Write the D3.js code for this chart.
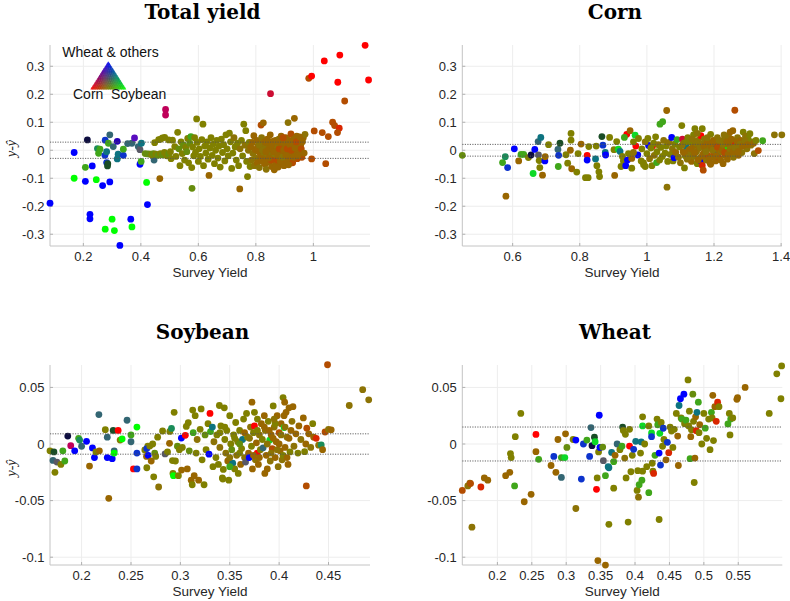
<!DOCTYPE html>
<html><head><meta charset="utf-8">
<script src="https://cdn.jsdelivr.net/npm/d3@7"></script>
<style>body{margin:0;background:#fff}svg{display:block}</style>
</head><body><svg id="chart" width="790" height="601"></svg>
<script>
// crop shares per colour code: [corn, soybean, wheat & others]
const mixShares = {
  R:[1,0,0], G:[0,1,0], B:[0,0,1],
  O:[0.5,0.5,0], Y:[0.55,0.45,0.02], N:[0.6,0.4,0], A:[0.7,0.3,0], E:[0.85,0.15,0],
  L:[0.4,0.55,0.05], W:[0.25,0.65,0.1], T:[0.05,0.45,0.5], C:[0.2,0.4,0.45],
  K:[0.05,0.05,0.25], D:[0.1,0.3,0.15], P:[0.35,0.05,0.75], M:[0.75,0,0.35],
  S:[0.05,0.2,0.8], H:[0.35,0.35,0.4], J:[0.05,0.85,0.15], Q:[0.1,0.55,0.35],
  U:[0.15,0,0.7], F:[0.8,0.05,0.2]
};

const totalPoints = [
[0.084,-0.189,'B'],[0.168,-0.008,'B'],[0.168,-0.100,'G'],[0.207,-0.061,'W'],[0.207,-0.111,'B'],[0.214,0.037,'K'],
[0.223,-0.229,'B'],[0.223,-0.245,'B'],[0.231,-0.056,'B'],[0.245,-0.105,'G'],[0.249,0.006,'Q'],[0.253,-0.011,'W'],
[0.258,0.004,'W'],[0.267,-0.126,'B'],[0.276,-0.282,'G'],[0.276,0.036,'S'],[0.275,-0.018,'S'],[0.281,-0.005,'T'],
[0.281,-0.044,'S'],[0.284,-0.056,'D'],[0.285,-0.048,'D'],[0.287,0.025,'W'],[0.292,0.055,'C'],[0.292,-0.113,'B'],
[0.300,-0.246,'G'],[0.304,0.013,'C'],[0.308,-0.287,'G'],[0.318,0.032,'U'],[0.321,-0.014,'T'],[0.318,-0.031,'T'],
[0.327,-0.340,'B'],[0.339,-0.018,'S'],[0.339,0.004,'W'],[0.354,0.024,'C'],[0.365,-0.246,'B'],[0.369,-0.274,'G'],
[0.369,0.025,'C'],[0.378,0.044,'P'],[0.391,0.013,'C'],[0.397,-0.050,'B'],[0.397,0.002,'H'],[0.402,0.025,'T'],
[0.401,-0.040,'W'],[0.415,-0.012,'L'],[0.420,-0.115,'G'],[0.423,-0.194,'B'],[0.433,-0.014,'L'],[0.446,-0.035,'C'],
[0.448,0.027,'O'],[0.466,-0.101,'N'],[0.468,0.039,'O'],[0.486,0.146,'M'],[0.486,0.126,'M'],[0.483,0.046,'O'],
[0.425,-0.013,'L'],[0.438,-0.016,'O'],[0.444,-0.012,'L'],[0.452,-0.014,'O'],[0.46,-0.018,'L'],[0.468,-0.012,'O'],
[0.475,-0.016,'L'],[0.482,-0.008,'O'],[0.49,-0.02,'O'],[0.497,-0.013,'L'],[0.503,-0.005,'O'],[0.51,0.036,'O'],
[0.462,0.038,'O'],[0.475,0.044,'O'],[0.497,0.037,'O'],[0.505,-0.03,'O'],
[0.518,0.013,'O'],[0.522,-0.022,'O'],[0.528,0.064,'O'],[0.532,0.005,'L'],[0.536,-0.055,'O'],[0.54,0.03,'O'],
[0.544,-0.012,'O'],[0.548,0.018,'L'],[0.552,-0.035,'O'],[0.556,0.01,'O'],[0.56,-0.005,'L'],[0.563,0.042,'O'],
[0.566,-0.045,'O'],[0.57,0.025,'L'],[0.574,0.049,'W'],[0.577,-0.062,'O'],[0.578,-0.136,'L'],[0.58,0.012,'O'],
[0.584,-0.02,'O'],[0.587,0.045,'O'],[0.59,-0.008,'O'],[0.594,0.112,'O'],[0.596,0.028,'O'],[0.6,-0.04,'O'],
[0.603,0.005,'O'],[0.607,-0.022,'O'],[0.612,0.038,'O'],[0.616,0.093,'O'],[0.618,-0.055,'O'],[0.622,0.015,'O'],
[0.626,-0.01,'O'],[0.63,0.03,'O'],[0.634,-0.032,'O'],[0.637,-0.09,'N'],[0.64,0.008,'O'],[0.644,0.045,'O'],
[0.648,-0.018,'O'],[0.652,0.022,'O'],[0.656,-0.048,'O'],[0.66,0.0,'O'],[0.664,0.035,'O'],[0.668,-0.028,'O'],
[0.672,0.015,'O'],[0.676,-0.06,'O'],[0.68,0.04,'O'],[0.684,-0.008,'O'],[0.688,0.02,'O'],[0.692,-0.038,'O'],
[0.696,0.055,'O'],[0.70,0.005,'O'],[0.704,-0.02,'O'],[0.708,0.061,'O'],[0.712,0.03,'O'],[0.716,-0.065,'O'],
[0.72,-0.01,'O'],[0.724,0.045,'Y'],[0.728,0.012,'O'],[0.732,-0.035,'O'],[0.736,0.025,'O'],[0.74,-0.055,'O'],
[0.744,-0.138,'N'],[0.745,0.005,'Y'],[0.75,0.035,'O'],[0.754,-0.02,'O'],[0.758,0.093,'O'],[0.762,0.018,'Y'],
[0.765,0.07,'O'],[0.768,-0.04,'O'],[0.771,-0.094,'O'],[0.774,0.0,'Y'],[0.777,0.028,'O'],[0.78,-0.058,'O'],
[0.782,0.012,'N'],[0.785,-0.035,'Y'],[0.788,0.028,'N'],[0.79,-0.012,'Y'],[0.793,0.052,'N'],[0.795,-0.055,'Y'],
[0.798,0.002,'N'],[0.80,-0.028,'Y'],[0.803,0.035,'N'],[0.805,-0.045,'N'],[0.807,0.015,'Y'],[0.81,-0.005,'N'],
[0.812,-0.062,'Y'],[0.815,0.022,'N'],[0.817,-0.02,'N'],[0.82,0.045,'Y'],[0.822,-0.038,'N'],[0.818,0.090,'A'],
[0.826,0.098,'N'],[0.825,0.005,'N'],[0.828,-0.015,'Y'],[0.83,0.03,'N'],[0.832,-0.05,'N'],[0.834,0.012,'Y'],
[0.836,-0.068,'Y'],[0.838,-0.025,'N'],[0.84,0.04,'N'],[0.842,-0.002,'N'],[0.845,0.02,'Y'],[0.847,-0.042,'N'],
[0.85,0.055,'N'],[0.851,0.202,'F'],[0.852,-0.01,'N'],[0.855,-0.058,'N'],[0.857,0.008,'Y'],[0.86,-0.03,'N'],
[0.862,0.025,'N'],[0.864,-0.07,'N'],[0.866,-0.018,'Y'],[0.868,0.035,'N'],[0.87,-0.048,'N'],[0.872,0.002,'N'],
[0.874,-0.035,'A'],[0.876,0.015,'N'],[0.878,-0.06,'N'],[0.88,0.04,'Y'],[0.882,-0.008,'N'],[0.884,0.022,'N'],
[0.886,-0.025,'N'],[0.888,0.05,'N'],[0.89,-0.045,'N'],[0.892,0.008,'A'],[0.894,-0.015,'N'],[0.896,0.03,'N'],
[0.898,-0.055,'N'],[0.90,0.012,'N'],[0.902,-0.03,'A'],[0.904,0.045,'N'],[0.906,-0.005,'N'],[0.908,0.025,'N'],
[0.91,-0.04,'N'],[0.912,0.099,'Y'],[0.913,0.01,'N'],[0.915,-0.02,'A'],[0.917,0.035,'N'],[0.92,-0.008,'N'],
[0.922,0.058,'A'],[0.924,-0.028,'N'],[0.926,0.018,'N'],[0.928,-0.045,'A'],[0.93,0.005,'N'],[0.932,0.04,'N'],
[0.934,0.114,'N'],[0.935,-0.018,'N'],[0.938,0.025,'A'],[0.94,-0.005,'N'],[0.942,0.05,'N'],[0.944,-0.03,'A'],
[0.946,0.012,'N'],[0.948,-0.012,'N'],[0.95,0.035,'A'],[0.953,0.0,'N'],[0.956,0.02,'N'],[0.96,-0.025,'A'],
[0.965,0.045,'N'],[0.971,0.057,'Y'],
[0.805,0.008,'N'],[0.812,0.018,'Y'],[0.818,-0.03,'N'],[0.823,0.0,'Y'],[0.829,-0.045,'N'],[0.835,0.028,'N'],
[0.84,-0.015,'Y'],[0.846,0.005,'N'],[0.853,-0.035,'A'],[0.858,0.032,'N'],[0.863,-0.005,'N'],[0.868,-0.062,'N'],
[0.871,0.018,'Y'],[0.877,-0.02,'N'],[0.881,0.005,'A'],[0.885,-0.04,'N'],[0.889,0.028,'N'],[0.893,-0.025,'Y'],
[0.897,0.0,'N'],[0.901,0.035,'N'],[0.905,-0.018,'N'],[0.909,0.005,'A'],[0.914,-0.052,'N'],[0.918,0.02,'N'],
[0.923,0.0,'A'],[0.927,0.032,'N'],[0.931,-0.025,'N'],[0.936,0.008,'N'],[0.941,0.03,'A'],[0.947,-0.02,'N'],
[0.952,0.048,'N'],[0.958,0.005,'A'],[0.962,0.03,'N'],[0.968,-0.01,'N'],[0.835,-0.005,'N'],[0.845,-0.028,'N'],
[0.855,0.018,'N'],[0.875,0.03,'N'],[0.895,0.045,'A'],
[0.984,0.257,'A'],[0.994,0.265,'R'],[1.038,0.319,'R'],[1.092,0.340,'R'],[1.180,0.375,'R'],[1.192,0.251,'R'],
[1.085,0.243,'R'],[1.109,0.176,'A'],[1.067,0.100,'A'],[1.074,0.088,'A'],[1.090,0.079,'E'],[1.084,0.063,'A'],
[1.003,0.069,'A'],[1.031,0.063,'A'],[1.052,0.049,'A'],[1.043,-0.048,'A'],[0.994,-0.031,'A']
];

const cornPoints = [
[0.45,-0.018,'L'],[0.570,-0.044,'W'],[0.578,-0.023,'Q'],[0.585,-0.062,'S'],[0.58,-0.164,'N'],[0.605,0.005,'B'],
[0.618,-0.038,'N'],[0.625,-0.015,'W'],[0.633,-0.015,'W'],[0.647,-0.026,'O'],[0.655,-0.017,'K'],[0.661,-0.083,'J'],
[0.666,0.003,'B'],[0.676,0.031,'C'],[0.684,0.046,'T'],[0.677,-0.017,'H'],[0.679,-0.037,'O'],[0.681,-0.062,'O'],
[0.689,-0.089,'N'],[0.696,-0.038,'B'],[0.697,-0.023,'N'],[0.707,0.020,'O'],[0.735,0.003,'C'],[0.737,-0.018,'S'],
[0.736,-0.058,'W'],[0.741,0.025,'D'],[0.759,-0.016,'O'],[0.764,-0.046,'O'],[0.772,0.0,'N'],[0.774,0.060,'O'],
[0.774,0.036,'O'],[0.776,-0.066,'N'],[0.791,-0.078,'O'],[0.795,-0.012,'O'],[0.804,0.022,'N'],[0.817,-0.098,'O'],
[0.825,-0.098,'O'],[0.822,-0.018,'R'],[0.822,-0.035,'B'],[0.827,0.013,'O'],[0.847,-0.031,'T'],[0.849,0.015,'O'],
[0.851,-0.055,'O'],[0.857,-0.077,'O'],[0.859,-0.094,'O'],[0.866,0.049,'D'],[0.869,0.018,'S'],[0.876,-0.008,'T'],
[0.877,-0.017,'B'],[0.889,0.046,'O'],[0.902,0.002,'O'],[0.904,-0.090,'N'],[0.91,0.031,'O'],[0.915,0.004,'J'],
[0.92,-0.004,'T'],[0.927,-0.022,'O'],[0.93,-0.038,'O'],[0.923,-0.058,'O'],[0.94,0.057,'R'],[0.933,0.046,'W'],
[0.942,-0.035,'B'],[0.937,-0.055,'B'],[0.95,0.070,'N'],[0.955,-0.029,'N'],[0.955,-0.064,'O'],[0.965,0.054,'J'],
[0.967,0.015,'R'],[0.973,-0.017,'B'],[0.975,0.042,'O'],[0.983,-0.038,'O'],[0.99,-0.052,'O'],[0.995,-0.058,'O'],
[0.945,-0.012,'O'],[0.96,0.03,'O'],[0.96,-0.008,'Y'],[1.005,0.017,'B'],[1.017,0.015,'R'],
[0.985,0.005,'O'],[0.99,-0.045,'O'],[0.995,0.03,'Y'],[1.0,-0.012,'O'],[1.003,0.042,'O'],[1.008,-0.03,'Y'],
[1.012,0.008,'O'],[1.015,-0.055,'O'],[1.02,0.025,'O'],[1.022,-0.018,'Y'],[1.026,0.048,'O'],[1.03,-0.005,'O'],
[1.029,-0.044,'W'],[1.034,0.02,'Y'],[1.038,-0.035,'O'],[1.039,0.093,'W'],[1.042,0.01,'O'],[1.047,0.102,'W'],
[1.046,-0.022,'O'],[1.05,0.035,'Y'],[1.054,-0.01,'O'],[1.058,0.015,'O'],[1.059,0.142,'N'],[1.06,-0.132,'Y'],
[1.062,-0.04,'O'],[1.066,0.028,'Y'],[1.07,-0.015,'O'],[1.074,0.046,'B'],[1.076,0.005,'Y'],[1.078,-0.038,'O'],
[1.081,-0.027,'B'],[1.083,0.022,'O'],[1.086,-0.008,'N'],[1.09,0.038,'W'],[1.094,-0.025,'Y'],[1.097,0.012,'O'],
[1.1,-0.045,'Y'],[1.104,0.088,'O'],[1.106,0.04,'F'],[1.108,-0.005,'N'],[1.11,0.025,'Y'],[1.112,-0.063,'O'],
[1.114,-0.02,'O'],[1.117,0.015,'T'],[1.12,-0.032,'Y'],[1.122,0.045,'O'],[1.125,0.0,'N'],[1.128,-0.012,'Y'],
[1.13,0.03,'O'],[1.133,-0.04,'N'],[1.136,0.01,'Y'],[1.139,0.055,'O'],[1.14,-0.022,'Y'],[1.143,0.077,'O'],
[1.145,0.018,'N'],[1.148,-0.005,'Y'],[1.15,-0.048,'O'],[1.152,0.035,'Y'],[1.155,0.008,'N'],[1.158,-0.028,'Y'],
[1.161,0.052,'R'],[1.161,-0.038,'B'],[1.163,0.022,'Y'],[1.165,0.077,'O'],[1.165,-0.054,'E'],[1.168,-0.071,'A'],
[1.168,-0.012,'N'],[1.171,0.04,'Y'],[1.174,0.0,'N'],[1.177,-0.035,'Y'],[1.18,0.028,'N'],[1.182,-0.018,'A'],
[1.185,0.012,'Y'],[1.188,-0.045,'N'],[1.19,0.057,'O'],[1.192,0.005,'N'],[1.195,-0.025,'Y'],[1.198,0.035,'N'],
[1.2,-0.008,'A'],[1.203,0.018,'T'],[1.205,-0.038,'N'],[1.208,-0.015,'C'],[1.21,0.045,'Y'],[1.213,0.002,'N'],
[1.216,-0.028,'A'],[1.219,0.025,'N'],[1.222,-0.005,'Y'],[1.225,0.01,'J'],[1.227,-0.048,'N'],[1.23,0.038,'Y'],
[1.233,-0.018,'N'],[1.236,0.015,'A'],[1.238,0.0,'G'],[1.24,-0.032,'N'],[1.243,0.05,'Y'],[1.246,0.022,'N'],
[1.248,0.065,'N'],[1.25,-0.01,'A'],[1.253,0.008,'N'],[1.256,0.07,'N'],[1.258,-0.025,'Y'],[1.26,0.032,'N'],
[1.262,0.143,'A'],[1.264,0.02,'E'],[1.266,-0.005,'N'],[1.27,0.045,'Y'],[1.273,-0.018,'N'],[1.276,0.012,'Y'],
[1.28,0.035,'N'],[1.283,-0.008,'Y'],[1.287,0.065,'O'],[1.29,0.025,'N'],[1.294,0.05,'Y'],[1.298,0.005,'Y'],
[1.302,0.04,'O'],[1.307,0.059,'O'],[1.31,0.018,'Y'],[1.315,0.03,'O'],[1.318,0.025,'N'],[1.32,-0.012,'Y'],
[1.325,0.035,'O'],[1.332,-0.001,'A'],[1.345,0.034,'W'],[1.380,0.055,'Y'],[1.402,0.055,'Y'],
[1.105,0.018,'Y'],[1.112,-0.01,'N'],[1.118,0.03,'O'],[1.124,-0.025,'Y'],[1.13,0.005,'N'],[1.135,0.04,'Y'],
[1.142,-0.01,'N'],[1.147,0.025,'Y'],[1.153,-0.035,'N'],[1.158,0.01,'Y'],[1.164,-0.022,'N'],[1.17,0.015,'N'],
[1.176,-0.005,'Y'],[1.18,0.045,'Y'],[1.186,-0.03,'N'],[1.19,0.02,'N'],[1.196,0.0,'Y'],[1.2,0.03,'N'],
[1.206,-0.02,'N'],[1.21,0.012,'A'],[1.215,0.035,'Y'],[1.22,-0.035,'N'],[1.224,0.0,'N'],[1.228,0.02,'Y'],
[1.232,-0.008,'A'],[1.238,0.03,'N'],[1.242,-0.015,'N'],[1.247,0.005,'Y'],[1.252,0.04,'N'],[1.257,-0.005,'N'],
[1.262,0.01,'Y'],[1.268,0.03,'N'],[1.272,-0.005,'N'],[1.278,0.022,'Y'],[1.285,0.015,'N'],[1.292,0.035,'Y'],
[1.3,0.02,'N'],[1.19,-0.05,'N'],[1.15,0.06,'Y'],[1.23,0.055,'Y']
];

const soybeanPoints = [
[0.168,-0.006,'O'],[0.171,-0.0145,'C'],[0.172,-0.007,'D'],[0.173,-0.025,'O'],[0.175,-0.016,'H'],[0.179,-0.018,'O'],
[0.181,-0.006,'W'],[0.183,-0.015,'W'],[0.186,0.007,'K'],[0.189,-0.0015,'M'],[0.193,-0.006,'B'],[0.197,0.005,'W'],
[0.198,0.0035,'Q'],[0.200,-0.002,'C'],[0.205,0.0024,'B'],[0.208,-0.0195,'N'],[0.211,-0.0035,'B'],[0.213,-0.012,'B'],
[0.2145,-0.007,'O'],[0.2175,0.026,'C'],[0.218,-0.006,'N'],[0.224,0.0127,'O'],[0.226,0.006,'C'],[0.226,-0.012,'B'],
[0.2275,-0.048,'N'],[0.231,-0.013,'B'],[0.232,0.012,'D'],[0.233,-0.006,'C'],[0.233,-0.008,'G'],[0.237,0.012,'R'],
[0.239,0.0035,'O'],[0.241,0.0045,'G'],[0.246,0.021,'C'],[0.250,0.008,'W'],[0.250,0.002,'C'],[0.2525,-0.022,'R'],
[0.256,0.015,'G'],[0.256,-0.008,'S'],[0.256,-0.022,'S'],
[0.264,-0.0053,'O'],[0.2657,-0.011,'N'],[0.266,-0.021,'O'],[0.267,-0.002,'O'],[0.2674,-0.010,'B'],[0.266,-0.004,'S'],
[0.269,-0.0018,'O'],[0.2705,-0.015,'N'],[0.272,0.0,'O'],[0.273,-0.029,'O'],[0.274,-0.008,'L'],[0.275,-0.011,'O'],
[0.277,0.006,'O'],[0.278,-0.038,'Y'],[0.282,0.0115,'O'],[0.2845,-0.0088,'H'],[0.287,-0.007,'O'],[0.289,0.0006,'N'],
[0.2893,0.0111,'O'],[0.291,0.0138,'Q'],[0.292,-0.0146,'O'],[0.2925,-0.026,'O'],[0.293,-0.028,'G'],[0.2937,0.028,'O'],
[0.295,-0.015,'O'],[0.297,-0.002,'L'],[0.298,-0.028,'O'],[0.299,-0.005,'O'],[0.3012,-0.023,'N'],[0.301,0.0052,'B'],
[0.302,-0.003,'O'],[0.305,0.0077,'R'],[0.306,0.0155,'O'],[0.307,-0.022,'N'],[0.308,0.0188,'O'],[0.309,-0.006,'L'],
[0.311,-0.032,'N'],[0.312,-0.036,'O'],[0.3125,0.030,'O'],[0.313,0.010,'W'],[0.314,-0.028,'N'],[0.315,0.025,'O'],
[0.316,-0.008,'O'],[0.317,0.004,'Y'],[0.3185,-0.032,'N'],[0.32,0.013,'O'],[0.321,0.031,'O'],[0.322,-0.014,'O'],
[0.324,-0.036,'O'],[0.325,0.008,'L'],[0.326,-0.005,'O'],[0.328,0.018,'O'],[0.329,-0.009,'B'],[0.330,0.027,'R'],
[0.3305,0.011,'W'],[0.3324,0.015,'T'],[0.333,-0.02,'O'],[0.334,0.002,'Y'],
[0.336,-0.012,'O'],[0.337,0.008,'O'],[0.3385,-0.018,'O'],[0.3395,0.034,'O'],[0.34,-0.003,'Y'],[0.341,0.016,'O'],
[0.3425,-0.030,'O'],[0.343,-0.031,'O'],[0.3435,-0.0225,'O'],[0.3445,0.032,'O'],[0.345,0.004,'O'],[0.346,-0.008,'Y'],
[0.347,0.012,'O'],[0.348,-0.015,'N'],[0.349,-0.032,'O'],[0.350,0.025,'O'],[0.351,0.0,'O'],[0.352,-0.005,'L'],
[0.353,-0.017,'T'],[0.354,0.008,'O'],[0.355,-0.022,'O'],[0.356,0.019,'O'],[0.357,-0.01,'Y'],[0.358,0.002,'O'],
[0.3586,-0.026,'O'],[0.36,0.012,'O'],[0.361,-0.018,'N'],[0.362,-0.004,'O'],[0.363,0.004,'T'],[0.364,0.022,'O'],
[0.365,-0.012,'Y'],[0.366,-0.016,'H'],[0.367,0.027,'O'],[0.368,0.006,'O'],[0.369,-0.008,'N'],[0.3697,-0.012,'B'],
[0.371,0.015,'Y'],[0.372,-0.002,'O'],[0.3725,0.037,'N'],[0.373,-0.022,'N'],[0.374,0.01,'O'],[0.375,0.016,'R'],
[0.376,-0.014,'Y'],[0.377,0.001,'N'],[0.3778,-0.008,'R'],[0.378,0.022,'O'],[0.379,-0.018,'N'],[0.38,0.008,'Y'],
[0.381,-0.005,'O'],[0.382,0.018,'N'],[0.3838,-0.0034,'C'],[0.3855,-0.026,'N'],[0.386,0.012,'Y'],[0.387,-0.01,'N'],
[0.388,-0.022,'N'],[0.389,0.02,'O'],[0.3905,0.0035,'J'],[0.391,-0.015,'Y'],[0.392,0.008,'N'],[0.393,-0.004,'A'],
[0.394,0.0336,'O'],[0.395,0.015,'Y'],[0.396,-0.012,'N'],[0.397,0.002,'N'],[0.398,0.025,'N'],[0.399,-0.02,'Y'],
[0.4,0.01,'A'],[0.401,-0.006,'N'],[0.402,0.018,'N'],[0.403,-0.014,'Y'],[0.404,0.041,'O'],[0.405,0.0145,'J'],
[0.4056,0.037,'N'],[0.406,-0.003,'N'],[0.407,0.028,'N'],[0.408,0.006,'Y'],[0.409,-0.018,'N'],[0.41,0.032,'N'],
[0.411,-0.007,'O'],[0.412,0.012,'N'],[0.413,0.02,'Y'],[0.414,0.033,'N'],[0.415,-0.002,'Y'],[0.417,0.009,'N'],
[0.419,-0.008,'O'],[0.42,0.016,'N'],[0.422,0.004,'Y'],[0.4245,0.023,'N'],[0.4258,-0.0068,'O'],[0.427,0.0,'N'],
[0.4275,-0.037,'A'],[0.428,0.014,'A'],[0.43,0.009,'N'],[0.432,-0.003,'Y'],[0.434,0.018,'O'],[0.435,0.006,'N'],
[0.4375,0.005,'E'],[0.44,-0.001,'Y'],[0.4426,-0.0008,'Q'],[0.444,-0.005,'N'],[0.4465,0.0106,'A'],[0.449,0.070,'A'],
[0.450,0.013,'Y'],[0.4527,0.0125,'N'],[0.471,0.034,'Y'],[0.4846,0.048,'Y'],[0.4907,0.039,'Y'],
[0.37,0.005,'Y'],[0.374,-0.01,'N'],[0.378,0.012,'O'],[0.38,-0.012,'N'],[0.383,0.004,'O'],[0.385,0.015,'N'],
[0.388,0.0,'Y'],[0.39,0.012,'N'],[0.392,-0.008,'Y'],[0.394,0.005,'N'],[0.396,0.018,'O'],[0.398,-0.005,'Y'],
[0.4,0.0,'N'],[0.402,0.008,'Y'],[0.404,-0.01,'O'],[0.406,0.015,'Y'],[0.408,-0.012,'N'],[0.41,0.005,'N'],
[0.405,0.025,'N'],[0.395,0.022,'Y'],[0.385,0.025,'N'],[0.375,0.028,'O'],[0.365,0.01,'N'],[0.36,-0.008,'O'],
[0.355,0.005,'O'],[0.35,-0.012,'Y'],[0.345,0.015,'O'],[0.34,0.01,'O'],[0.35,-0.02,'W'],[0.36,0.0,'L']
];

const wheatPoints = [
[0.149,-0.041,'A'],[0.157,-0.037,'Y'],[0.160,-0.0345,'N'],[0.161,-0.035,'A'],[0.163,-0.0735,'Y'],[0.176,-0.038,'E'],
[0.181,-0.030,'N'],[0.186,-0.032,'N'],[0.212,-0.028,'N'],[0.218,-0.025,'N'],[0.219,-0.0085,'O'],[0.220,-0.012,'O'],
[0.225,-0.037,'W'],[0.226,0.0065,'O'],[0.234,0.027,'O'],[0.239,-0.051,'N'],[0.249,-0.0445,'N'],[0.256,0.0085,'R'],
[0.256,-0.0068,'N'],[0.260,-0.0135,'W'],[0.278,-0.019,'N'],[0.285,-0.025,'N'],[0.282,-0.011,'S'],[0.288,0.004,'N'],
[0.293,-0.0295,'C'],[0.293,-0.012,'W'],[0.298,-0.012,'J'],[0.299,0.009,'N'],[0.301,-0.003,'L'],[0.310,0.004,'O'],
[0.314,0.0035,'B'],[0.314,-0.057,'Y'],[0.322,-0.031,'S'],[0.325,0.0,'S'],[0.330,0.0035,'W'],[0.334,-0.011,'S'],
[0.336,0.0145,'C'],[0.3375,-0.0015,'K'],[0.341,0.006,'D'],[0.342,0.002,'J'],[0.344,-0.040,'R'],[0.345,-0.030,'O'],
[0.346,-0.103,'N'],[0.347,-0.007,'O'],[0.348,0.0254,'B'],[0.349,-0.003,'B'],[0.353,-0.0027,'L'],[0.354,-0.0147,'H'],
[0.357,-0.107,'N'],[0.357,-0.028,'W'],[0.361,-0.020,'T'],[0.362,-0.021,'T'],[0.362,-0.071,'O'],[0.366,-0.0074,'T'],
[0.369,-0.039,'O'],[0.369,-0.0156,'W'],[0.371,-0.01,'N'],[0.374,0.0,'C'],[0.378,-0.005,'O'],[0.381,-0.002,'W'],
[0.382,0.015,'D'],[0.383,0.012,'O'],[0.385,-0.0124,'Y'],[0.386,0.0086,'O'],[0.387,-0.030,'O'],[0.390,-0.069,'O'],
[0.392,0.013,'O'],[0.392,-0.0018,'R'],[0.394,-0.0245,'O'],[0.396,-0.010,'O'],[0.398,-0.0047,'S'],[0.401,0.0024,'T'],
[0.403,-0.041,'O'],[0.404,-0.0236,'O'],[0.405,-0.047,'Y'],[0.406,-0.036,'W'],[0.408,-0.008,'O'],[0.409,0.0018,'T'],
[0.410,-0.032,'W'],[0.411,-0.024,'O'],[0.411,0.016,'J'],[0.411,0.024,'O'],[0.414,0.0,'O'],[0.417,-0.02,'O'],
[0.420,-0.043,'W'],[0.420,0.016,'O'],[0.424,0.0097,'J'],[0.425,-0.017,'O'],[0.426,-0.024,'O'],[0.427,-0.026,'E'],
[0.424,0.0065,'S'],[0.429,-0.010,'W'],[0.432,0.022,'O'],[0.433,0.017,'W'],[0.435,-0.0667,'O'],[0.435,-0.008,'B'],
[0.436,0.0094,'J'],[0.437,-0.0186,'S'],[0.438,0.019,'O'],[0.44,-0.002,'O'],[0.441,0.0139,'S'],[0.442,0.004,'O'],
[0.445,-0.014,'N'],[0.447,0.0015,'S'],[0.449,-0.0077,'E'],[0.451,0.015,'O'],[0.453,0.0115,'O'],[0.455,-0.003,'O'],
[0.457,0.013,'O'],[0.460,0.027,'O'],[0.462,0.007,'N'],[0.463,-0.019,'N'],[0.464,0.034,'T'],[0.466,0.040,'B'],
[0.467,0.023,'O'],[0.468,0.022,'W'],[0.471,0.044,'B'],[0.472,0.018,'O'],[0.474,0.021,'W'],[0.477,0.0566,'O'],
[0.478,0.016,'O'],[0.479,0.029,'O'],[0.481,0.0065,'N'],[0.480,-0.013,'W'],[0.482,0.0125,'O'],[0.484,0.044,'L'],
[0.485,0.02,'O'],[0.486,-0.034,'O'],[0.487,-0.0124,'N'],[0.488,0.024,'N'],[0.489,0.0118,'E'],[0.490,0.028,'T'],
[0.492,0.037,'W'],[0.493,0.01,'O'],[0.494,0.017,'N'],[0.497,0.0,'O'],[0.500,0.027,'O'],[0.502,0.014,'W'],
[0.504,0.005,'O'],[0.507,0.022,'O'],[0.509,-0.005,'O'],[0.511,0.028,'W'],[0.512,0.023,'O'],[0.513,0.043,'N'],
[0.514,0.003,'O'],[0.516,0.033,'N'],[0.518,0.02,'E'],[0.520,0.037,'E'],[0.522,0.033,'O'],[0.535,0.0177,'W'],
[0.537,0.027,'O'],[0.538,0.008,'O'],[0.539,0.022,'W'],[0.542,0.023,'O'],[0.548,0.0395,'N'],[0.549,0.041,'N'],
[0.560,0.050,'N'],[0.595,0.027,'O'],[0.606,0.062,'O'],[0.613,0.069,'O'],[0.612,0.040,'O']
];

const totalXTicks = [0.2,0.4,0.6,0.8,1];
const totalXLabels = ["0.2","0.4","0.6","0.8","1"];
const cornXTicks = [0.6,0.8,1,1.2,1.4];
const cornXLabels = ["0.6","0.8","1","1.2","1.4"];
const soybeanXTicks = [0.2,0.25,0.3,0.35,0.4,0.45];
const soybeanXLabels = ["0.2","0.25","0.3","0.35","0.4","0.45"];
const wheatXTicks = [0.2,0.25,0.3,0.35,0.4,0.45,0.5,0.55];
const wheatXLabels = ["0.2","0.25","0.3","0.35","0.4","0.45","0.5","0.55"];
const largeYTicks = [-0.3,-0.2,-0.1,0,0.1,0.2,0.3];
const largeYLabels = ["-0.3","-0.2","-0.1","0","0.1","0.2","0.3"];
const smallYTicks = [-0.1,-0.05,0,0.05];
const smallYLabels = ["-0.1","-0.05","0","0.05"];
// dotted threshold band (+/-) per panel
const bands = {total:0.029, corn:0.021, soybean:0.009, wheat:0.015};

const panels = [
  {title:"Total yield", pts:totalPoints, xd:[0.084,1.197], yd:[-0.342,0.376], xt:totalXTicks, xl:totalXLabels,
   yt:largeYTicks, yl:largeYLabels, band:bands.total, left:50, top:45, w:320, h:201, ylab:true, legend:true, titleX:202.5},
  {title:"Corn", pts:cornPoints, xd:[0.45,1.402], yd:[-0.342,0.376], xt:cornXTicks, xl:cornXLabels,
   yt:largeYTicks, yl:largeYLabels, band:bands.corn, left:462.3, top:45, w:319.5, h:201, ylab:false, titleX:615},
  {title:"Soybean", pts:soybeanPoints, xd:[0.168,0.492], yd:[-0.1069,0.0698], xt:soybeanXTicks, xl:soybeanXLabels,
   yt:smallYTicks, yl:smallYLabels, band:bands.soybean, left:50, top:365, w:320, h:200, ylab:true, titleX:202.5},
  {title:"Wheat", pts:wheatPoints, xd:[0.149,0.614], yd:[-0.1069,0.0698], xt:wheatXTicks, xl:wheatXLabels,
   yt:smallYTicks, yl:smallYLabels, band:bands.wheat, left:462.3, top:365, w:320, h:200, ylab:false, titleX:615}
];

const svg = d3.select("#chart");
const tickFont = "'Liberation Sans', Arial, Helvetica, sans-serif";
function mixColor(code){
  const s = mixShares[code];
  return d3.rgb(Math.round(s[0]*255), Math.round(s[1]*255), Math.round(s[2]*255)).toString();
}

panels.forEach(p => {
  const x = d3.scaleLinear().domain(p.xd).range([p.left, p.left + p.w]);
  const y = d3.scaleLinear().domain(p.yd).range([p.top + p.h, p.top]);
  const g = svg.append("g");

  // grid
  g.selectAll(".gx").data(p.xt).enter().append("line")
    .attr("x1", d => x(d)).attr("x2", d => x(d)).attr("y1", p.top).attr("y2", p.top + p.h)
    .attr("stroke", "#ededed").attr("stroke-width", 1);
  g.selectAll(".gy").data(p.yt).enter().append("line")
    .attr("x1", p.left).attr("x2", p.left + p.w).attr("y1", d => y(d)).attr("y2", d => y(d))
    .attr("stroke", "#ededed").attr("stroke-width", 1);

  // axes lines
  g.append("line").attr("x1", p.left).attr("x2", p.left).attr("y1", p.top).attr("y2", p.top + p.h)
    .attr("stroke", "#c4c4c4").attr("stroke-width", 1);
  g.append("line").attr("x1", p.left).attr("x2", p.left + p.w).attr("y1", p.top + p.h).attr("y2", p.top + p.h)
    .attr("stroke", "#c4c4c4").attr("stroke-width", 1);
  // inward ticks
  g.selectAll(".tx").data(p.xt).enter().append("line")
    .attr("x1", d => x(d)).attr("x2", d => x(d)).attr("y1", p.top + p.h).attr("y2", p.top + p.h - 3)
    .attr("stroke", "#b0b0b0");
  g.selectAll(".ty").data(p.yt).enter().append("line")
    .attr("x1", p.left).attr("x2", p.left + 3).attr("y1", d => y(d)).attr("y2", d => y(d))
    .attr("stroke", "#b0b0b0");

  // tick labels
  g.selectAll(".lx").data(p.xt).enter().append("text")
    .attr("x", d => x(d)).attr("y", p.top + p.h + 15)
    .attr("text-anchor", "middle").attr("font-family", tickFont).attr("font-size", 13).attr("fill", "#262626")
    .text((d, i) => p.xl[i]);
  g.selectAll(".ly").data(p.yt).enter().append("text")
    .attr("x", p.left - 5.5).attr("y", d => y(d) + 4.6)
    .attr("text-anchor", "end").attr("font-family", tickFont).attr("font-size", 13).attr("fill", "#262626")
    .text((d, i) => p.yl[i]);

  // points
  g.selectAll(".pt").data(p.pts).enter().append("circle")
    .attr("cx", d => x(d[0])).attr("cy", d => y(d[1])).attr("r", 3.4)
    .attr("fill", d => mixColor(d[2]));

  // dotted band lines
  [p.band, -p.band].forEach(v => {
    g.append("line").attr("x1", p.left).attr("x2", p.left + p.w).attr("y1", y(v)).attr("y2", y(v))
      .attr("stroke", "#555").attr("stroke-width", 0.9).attr("stroke-dasharray", "1.2,1.3");
  });

  // title
  g.append("text").attr("x", p.titleX).attr("y", p.top - 26)
    .attr("text-anchor", "middle").attr("font-family", "'DejaVu Serif', serif").attr("font-weight", "bold")
    .attr("font-size", 20).attr("fill", "#000").text(p.title);

  // x label
  g.append("text").attr("x", p.left + p.w / 2).attr("y", p.top + p.h + 30.5)
    .attr("text-anchor", "middle").attr("font-family", tickFont).attr("font-size", 13.5).attr("fill", "#262626")
    .text("Survey Yield");

  if (p.ylab) {
    g.append("text").attr("transform", `translate(16,${p.top + p.h / 2 + 3}) rotate(-90)`)
      .attr("text-anchor", "middle").attr("font-family", "'Liberation Serif', 'Times New Roman', serif")
      .attr("font-style", "italic").attr("font-size", 14).attr("fill", "#262626").text("y-ŷ");
  }

  if (p.legend) {
    const top = [108.3, 61.7], lft = [90.7, 89.3], rgt = [126, 89.3];
    const n = 16;
    const P = (i, j) => [top[0]*(1-i/n) + lft[0]*((i-j)/n) + rgt[0]*(j/n),
                         top[1]*(1-i/n) + lft[1]*((i-j)/n) + rgt[1]*(j/n)];
    const W = (i, j) => [(i-j)/n, j/n, 1-i/n]; // corn(red), soy(green), wheat(blue)
    const tris = [];
    for (let i = 0; i < n; i++) {
      for (let j = 0; j <= i; j++) {
        tris.push([[i,j],[i+1,j],[i+1,j+1]]);
        if (j < i) tris.push([[i,j],[i,j+1],[i+1,j+1]]);
      }
    }
    const lg = g.append("g");
    tris.forEach(t => {
      const w = [0,1,2].map(k => (W(...t[0])[k] + W(...t[1])[k] + W(...t[2])[k]) / 3);
      const c = d3.rgb(w[0]*255, w[1]*255, w[2]*255).toString();
      lg.append("path").attr("d", "M" + t.map(q => P(...q).join(",")).join("L") + "Z")
        .attr("fill", c).attr("stroke", c).attr("stroke-width", 0.4);
    });
    g.append("text").attr("x", 110.5).attr("y", 57.3).attr("text-anchor", "middle")
      .attr("font-family", tickFont).attr("font-size", 14).attr("fill", "#111").text("Wheat & others");
    g.append("text").attr("x", 73).attr("y", 99.3)
      .attr("font-family", tickFont).attr("font-size", 14).attr("fill", "#111").text("Corn");
    g.append("text").attr("x", 111).attr("y", 99.3)
      .attr("font-family", tickFont).attr("font-size", 14).attr("fill", "#111").text("Soybean");
  }
});
</script>
</body></html>
